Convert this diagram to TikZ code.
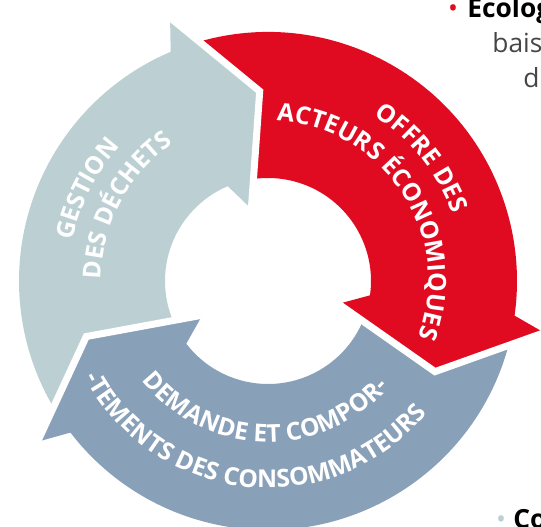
\documentclass[tikz,border=0pt]{standalone}
\usepackage{fontspec}
\setmainfont{Open Sans}
\usetikzlibrary{decorations.text}
\definecolor{cyclered}{RGB}{224,11,33}
\definecolor{cycleblue}{RGB}{137,160,185}
\definecolor{cyclegrey}{RGB}{188,208,212}
\definecolor{pagegrey}{RGB}{70,70,70}
\newcommand\cyclefont{\fontsize{14}{16}\selectfont\bfseries}

\begin{document}
\begin{tikzpicture}[
    cycletext/.style={decorate, decoration={text along path, text align=center,
        text color=white, text={|\cyclefont|#1}}},
    gap/.style={draw=white, line width=0.14cm, line join=miter},
    pagetext/.style={anchor=base west, inner sep=0pt, font=\fontsize{15}{18}\selectfont}
  ]

      \useasboundingbox (-5.36,-4.92) rectangle (5.46,5.62);
      \clip (-5.36,-4.92) rectangle (5.46,5.62);

      \coordinate (O) at (0,0);

      \foreach \col/\a/\b in {cyclegrey/212.5/108, cyclered/108/-13, cycleblue/347/212.5}
        \fill[\col] (\a:4.98) arc[start angle=\a, end angle=\b, radius=4.98]
          -- (\b:2.06) arc[start angle=\b, end angle=\a, radius=2.06] -- cycle;

      \foreach \col/\e in {cyclegrey/113, cyclered/-8, cycleblue/217.5}{
        \fill[\col] (\e:4.98) -- ({\e-2.6}:5.62) -- ({\e-20.5}:3.8)
          -- ({\e-10}:1.48) -- (\e:2.06) -- cycle;
        \draw[gap] ({\e-2.6}:5.62) -- ({\e-20.5}:3.8) -- ({\e-10}:1.48);
      }

      \path[cycletext={OFFRE DES}] (78.7:3.93) arc[start angle=78.7, end angle=-1.3, radius=3.93];
      \path[cycletext={ACTEURS ÉCONOMIQUES}] (103.2:3.21) arc[start angle=103.2, end angle=-36.8, radius=3.21];
      \path[cycletext={GESTION}] (193:3.99) arc[start angle=193, end angle=113, radius=3.99];
      \path[cycletext={DES DÉCHETS}] (201.9:3.34) arc[start angle=201.9, end angle=101.9, radius=3.34];
      \path[cycletext={DEMANDE ET COMPOR-}] (198.5:3.22) arc[start angle=198.5, end angle=338.5, radius=3.22];
      \path[cycletext={-TEMENTS DES CONSOMMATEURS}] (189:4.14) arc[start angle=189, end angle=339, radius=4.14];

      \node[pagetext, font=\fontsize{15}{18}\selectfont\bfseries] (ecolog) at (3.98,5.26) {Ecolog};
      \node[pagetext, anchor=base, text=cyclered] (dotA) at (3.70,5.26) {•};
      \node[pagetext, text=pagegrey] (bais) at (4.48,4.56) {bais};
      \node[pagetext, text=pagegrey] (du) at (5.10,3.86) {du};
      \node[pagetext, font=\fontsize{15}{18}\selectfont\bfseries] (co) at (4.90,-4.96) {Co};
      \node[pagetext, anchor=base, text=cyclegrey] (dotB) at (4.66,-4.96) {•};

\end{tikzpicture}
\end{document}
